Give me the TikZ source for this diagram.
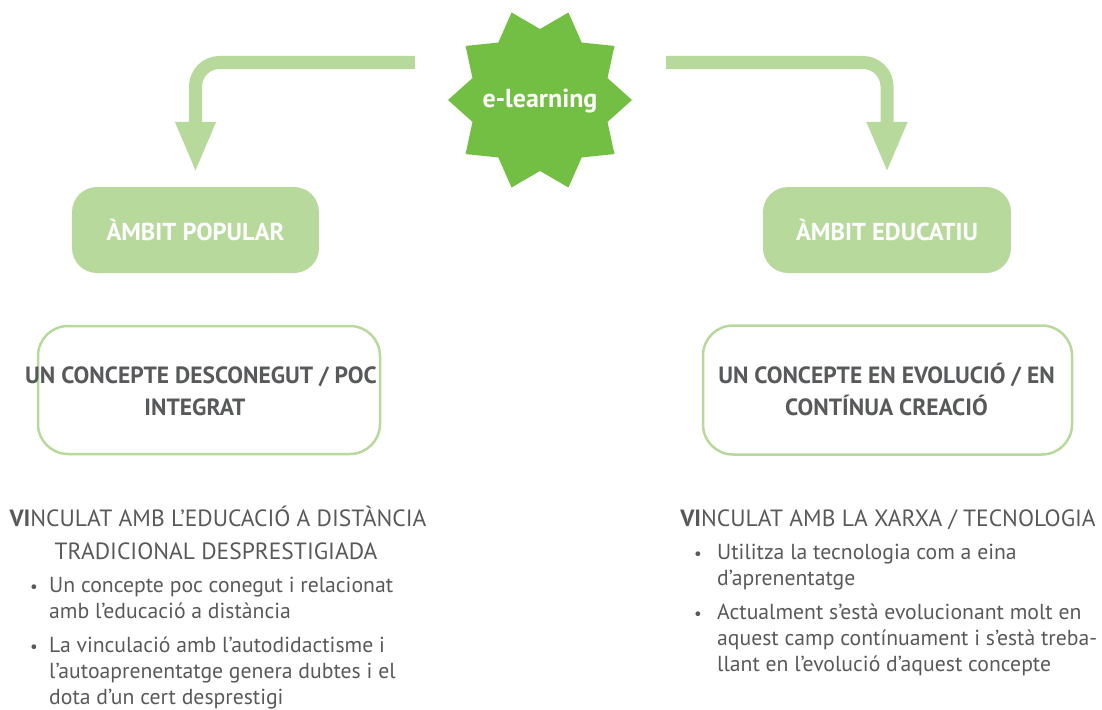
\documentclass[tikz,border=0pt]{standalone}
\usepackage{fontspec}
\setmainfont{PT Sans}
\usetikzlibrary{arrows.meta}
\definecolor{lg}{HTML}{B7DA9C}
\definecolor{sg}{HTML}{72BF44}
\definecolor{gt}{HTML}{58595B}
\begin{document}
\begin{tikzpicture}[x=1pt,y=-1pt,
  bigarrow/.style={draw=lg, line width=13pt, rounded corners=24pt, -{Triangle[length=51pt,width=37pt]}, shorten >=14pt},
  ambit/.style={fill=lg, draw=none, rounded corners=25pt, minimum width=247pt, minimum height=86pt, text=white, font=\fontsize{24.5}{28}\selectfont\bfseries, inner sep=0pt},
  obox/.style={draw=lg, line width=2.5pt, fill=white, rounded corners=30pt, inner sep=0pt},
  btxt/.style={text=gt, font=\fontsize{23.5}{26}\selectfont\bfseries, inner sep=0pt, anchor=base},
  hd/.style={text=gt, font=\fontsize{23.5}{26}\selectfont, inner sep=0pt, anchor=base},
  txt/.style={text=gt, font=\fontsize{21.7}{26}\selectfont, inner sep=0pt, anchor=base west},
  bul/.style={text=gt, font=\fontsize{17}{26}\selectfont, inner sep=0pt, anchor=base west}]
\useasboundingbox (0,0) rectangle (1102,709);

% star
\begin{scope}[shift={(540,100)}]
\fill[sg] (0:92) \foreach \i in {1,...,19} { -- ({\i*18}:{ifthenelse(isodd(\i),71,92)}) } -- cycle;
\end{scope}
\node[text=white, font=\fontsize{26}{28}\selectfont\bfseries, inner sep=0pt, anchor=base] (el) at (540,107) {e-learning};

% top boxes
\node[ambit] (pop) at (195.5,230) {ÀMBIT POPULAR};
\node[ambit, minimum width=248pt] (edu) at (887,230) {ÀMBIT EDUCATIU};

% arrows
\coordinate (sL) at (415,62.5);
\coordinate (sR) at (666,62.5);
\draw[bigarrow] (sL) -| (pop.north);
\draw[bigarrow] (sR) -| (edu.north);

% outline boxes
\node[obox, minimum width=342pt, minimum height=128pt] (b1) at (209,390) {};
\node[obox, minimum width=369pt, minimum height=129pt] (b2) at (887.5,390) {};
\node[btxt] (b1a) at (201,383) {UN CONCEPTE DESCONEGUT / POC};
\node[btxt] (b1b) at (195,415) {INTEGRAT};
\node[btxt] (b2a) at (886.5,383) {UN CONCEPTE EN EVOLUCIÓ / EN};
\node[btxt] (b2b) at (886.5,415) {CONTÍNUA CREACIÓ};

% left text
\node[hd] (lh1) at (218,526) {\textbf{VI}NCULAT AMB L’EDUCACIÓ A DISTÀNCIA};
\node[hd] (lh2) at (216,559) {TRADICIONAL DESPRESTIGIADA};
\node[bul] (lb1) at (30,592) {•};
\node[txt] (l1) at (49,592) {Un concepte poc conegut i relacionat};
\node[txt] (l2) at (49,618) {amb l’educació a distància};
\node[bul] (lb2) at (30,652) {•};
\node[txt] (l3) at (49,652) {La vinculació amb l’autodidactisme i};
\node[txt] (l4) at (49,678) {l’autoaprenentatge genera dubtes i el};
\node[txt] (l5) at (49,704) {dota d’un cert desprestigi};

% right text
\node[hd] (rh1) at (888,526) {\textbf{VI}NCULAT AMB LA XARXA / TECNOLOGIA};
\node[bul] (rb1) at (694,559) {•};
\node[txt] (r1) at (717,559) {Utilitza la tecnologia com a eina};
\node[txt] (r2) at (717,585) {d’aprenentatge};
\node[bul] (rb2) at (694,619) {•};
\node[txt] (r3) at (717,619) {Actualment s’està evolucionant molt en};
\node[txt] (r4) at (717,645) {aquest camp contínuament i s’està treba-};
\node[txt] (r5) at (717,671) {llant en l’evolució d’aquest concepte};
\end{tikzpicture}
\end{document}
